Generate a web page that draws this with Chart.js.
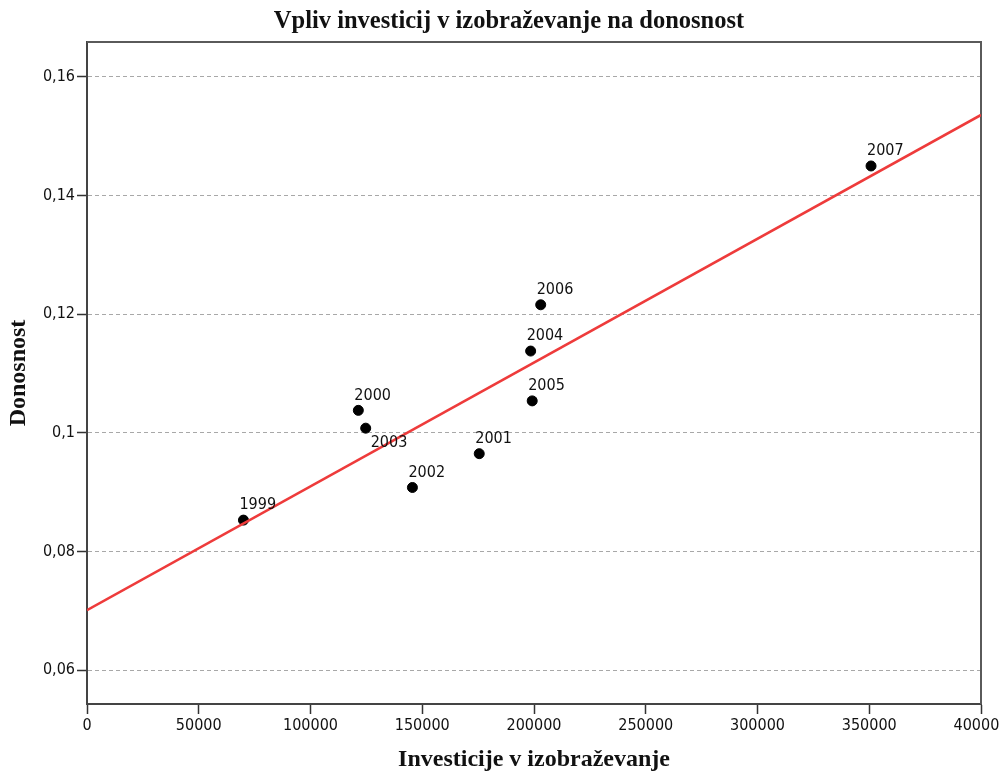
<!DOCTYPE html>
<html>
<head>
<meta charset="utf-8">
<script src="https://cdn.jsdelivr.net/npm/chart.js@4"></script>
<style>
  html, body { margin: 0; padding: 0; background: #fff; }
  #wrap { width: 1000px; height: 774px; }
</style>
</head>
<body>
<div id="wrap"><canvas id="chart"></canvas></div>
<script>
const years = ["1999", "2000", "2001", "2002", "2003", "2004", "2005", "2006", "2007"];
const investment = [70000, 121400, 175500, 145600, 124700, 198500, 199200, 203000, 350800];
const returns = [0.0853, 0.1038, 0.0965, 0.0908, 0.1008, 0.1138, 0.1054, 0.1216, 0.1450];
const fitX = [0, 400000];
const fitY = [0.0701, 0.1536];
const xTicks = [0, 50000, 100000, 150000, 200000, 250000, 300000, 350000, 400000];
const yTicks = [0.06, 0.08, 0.10, 0.12, 0.14, 0.16];
const yTickLabels = ["0,06", "0,08", "0,1", "0,12", "0,14", "0,16"];
const labelsBelow = ["2003"];

const titleText = "Vpliv investicij v izobraževanje na donosnost";
const tickFont = { family: "'DejaVu Sans Condensed', 'DejaVu Sans'", size: 16 };

// title drawn by hand so it can sit where the original has it
const titlePlugin = {
  id: "mainTitle",
  afterDraw(chart) {
    const ctx = chart.ctx;
    ctx.save();
    ctx.font = "bold 24.5px 'Liberation Serif'";
    ctx.fillStyle = "#111";
    ctx.textAlign = "center";
    ctx.textBaseline = "alphabetic";
    ctx.fillText(titleText, 509, 28);
    ctx.restore();
  }
};

// frame round the plot area (top and right side)
const framePlugin = {
  id: "frame",
  beforeDatasetsDraw(chart) {
    const a = chart.chartArea;
    const ctx = chart.ctx;
    ctx.save();
    ctx.strokeStyle = "#5a5a5a";
    ctx.lineWidth = 2;
    ctx.beginPath();
    ctx.moveTo(a.left, a.top);
    ctx.lineTo(a.right, a.top);
    ctx.lineTo(a.right, a.bottom);
    ctx.stroke();
    ctx.restore();
  }
};

// year labels next to each point
const pointLabels = {
  id: "pointLabels",
  afterDatasetsDraw(chart) {
    const meta = chart.getDatasetMeta(1);
    const ctx = chart.ctx;
    ctx.save();
    ctx.font = "16px 'DejaVu Sans Condensed', 'DejaVu Sans'";
    ctx.fillStyle = "#111";
    ctx.textBaseline = "middle";
    ctx.textAlign = "left";
    meta.data.forEach((pt, i) => {
      const below = labelsBelow.includes(years[i]);
      const x = below ? pt.x + 5 : pt.x - 4;
      const y = below ? pt.y + 15 : pt.y - 15;
      ctx.fillText(years[i], x, y);
    });
    ctx.restore();
  }
};

new Chart(document.getElementById("chart"), {
  type: "scatter",
  data: {
    datasets: [
      {
        type: "line",
        data: fitX.map((x, i) => ({ x, y: fitY[i] })),
        borderColor: "#ee3b3b",
        borderWidth: 2.5,
        pointRadius: 0,
        fill: false
      },
      {
        data: investment.map((x, i) => ({ x, y: returns[i] })),
        backgroundColor: "#000",
        borderColor: "#000",
        pointRadius: 5,
        pointHoverRadius: 5
      }
    ]
  },
  options: {
    responsive: true,
    maintainAspectRatio: false,
    animation: false,
    layout: { padding: { top: 42, right: 19, left: 0, bottom: 0 } },
    plugins: {
      legend: { display: false },
      tooltip: { enabled: false }
    },
    scales: {
      x: {
        type: "linear",
        min: 0,
        max: 400000,
        afterBuildTicks: s => { s.ticks = xTicks.map(v => ({ value: v })); },
        afterFit: s => { s.height = 70; s.paddingLeft = 0; s.paddingRight = 0; },
        ticks: {
          font: tickFont,
          color: "#111",
          padding: 2,
          maxRotation: 0,
          autoSkip: false,
          callback: v => String(v)
        },
        grid: {
          drawOnChartArea: false,
          drawTicks: true,
          tickLength: 10,
          tickColor: "#333",
          tickWidth: 1.5
        },
        border: { color: "#444", width: 2 },
        title: {
          display: true,
          text: "Investicije v izobraževanje",
          font: { family: "Liberation Serif", size: 24, weight: "bold" },
          color: "#111",
          padding: { top: 0, bottom: 0 }
        }
      },
      y: {
        type: "linear",
        min: 0.0543,
        max: 0.1659,
        afterBuildTicks: s => { s.ticks = yTicks.map(v => ({ value: v })); },
        afterFit: s => { s.width = 87; s.paddingTop = 0; s.paddingBottom = 0; },
        ticks: {
          font: tickFont,
          color: "#111",
          padding: 2,
          autoSkip: false,
          callback: v => {
            const i = yTicks.findIndex(t => Math.abs(t - v) < 1e-9);
            return i >= 0 ? yTickLabels[i] : "";
          }
        },
        grid: {
          color: "#a8a8a8",
          lineWidth: 1,
          tickBorderDash: [1, 0],
          tickColor: "#333",
          tickWidth: 1.5,
          tickLength: 10
        },
        border: { color: "#444", width: 2, dash: [4, 3] },
        title: {
          display: true,
          text: "Donosnost",
          font: { family: "Liberation Serif", size: 24, weight: "bold" },
          color: "#111",
          padding: { top: 4, bottom: 0 }
        }
      }
    }
  },
  plugins: [titlePlugin, framePlugin, pointLabels]
});
</script>
</body>
</html>
